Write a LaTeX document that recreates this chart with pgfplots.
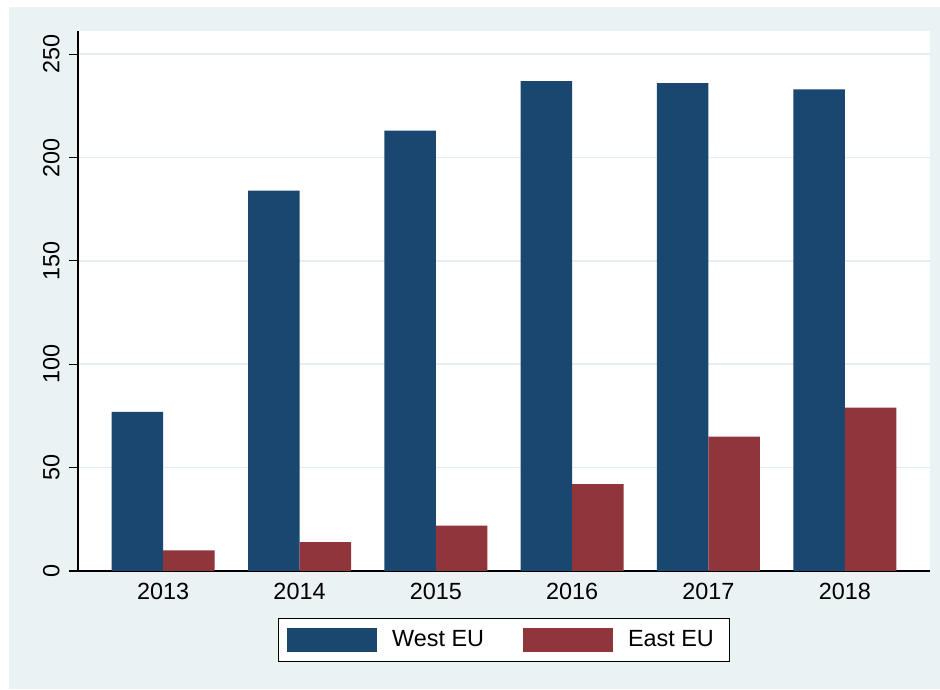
\documentclass[border=0pt]{standalone}
\usepackage{fontspec}
\setmainfont{Liberation Sans}
\usepackage{pgfplots}
\pgfplotsset{compat=1.18}
\definecolor{stblue}{HTML}{1A476F}
\definecolor{stred}{HTML}{90353B}
\definecolor{stbg}{HTML}{EAF2F3}
\definecolor{stgrid}{HTML}{E4EDF0}
\pgfplotsset{stlegend/.style={legend image code/.code={\fill[##1] (0pt,-6pt) rectangle (45pt,6pt);}}}
\newcommand{\tfont}{\fontsize{11.7}{14}\selectfont}
\begin{document}
\begin{tikzpicture}
\fill[white] (0pt,0pt) rectangle (470pt,344.5pt);
\fill[stbg] (4.5pt,0pt) rectangle (470pt,341pt);
\useasboundingbox (0pt,0pt) rectangle (470pt,344.5pt);
\begin{axis}[
  at={(39pt,59pt)}, anchor=south west,
  width=426pt, height=270pt, scale only axis,
  xmin=-0.625, xmax=5.625, ymin=0, ymax=261.2,
  axis x line*=bottom, axis y line*=left,
  axis line style={black, line width=0.55pt},
  axis background/.style={fill=white},
  xtick={0,1,2,3,4,5}, xticklabels={2013,2014,2015,2016,2017,2018},
  x tick style={draw=none},
  ytick={0,50,100,150,200,250},
  ymajorgrids, grid style={stgrid, line width=0.8pt},
  tick align=outside, major tick length=4.5pt,
  y tick style={black, line width=0.55pt},
  tick label style={font=\tfont},
  /pgf/number format/assume math mode=true,
  yticklabel style={xshift=-4.5pt, rotate=90, anchor=south, inner sep=0pt},
  xticklabel style={anchor=north, inner sep=0pt, yshift=-1.5pt},
  ybar, bar width=25.75pt,
  legend columns=2,
  legend style={at={(0.5,-0.087)}, anchor=north, draw=black, line width=0.5pt, fill=white,
    font=\tfont, inner xsep=4.5pt, inner ysep=4.75pt, column sep=4pt,
    nodes={inner xsep=3.5pt, inner ysep=0pt},
    /tikz/every even column/.append style={column sep=16pt}},
]
\addplot[fill=stblue, draw=none, bar shift=-12.875pt, stlegend] coordinates {(0,77) (1,184) (2,213) (3,237) (4,236) (5,233)};
\addplot[fill=stred, draw=none, bar shift=12.875pt, stlegend] coordinates {(0,10) (1,14) (2,22) (3,42) (4,65) (5,79)};
\legend{West EU, East EU}
\end{axis}
\end{tikzpicture}
\end{document}
